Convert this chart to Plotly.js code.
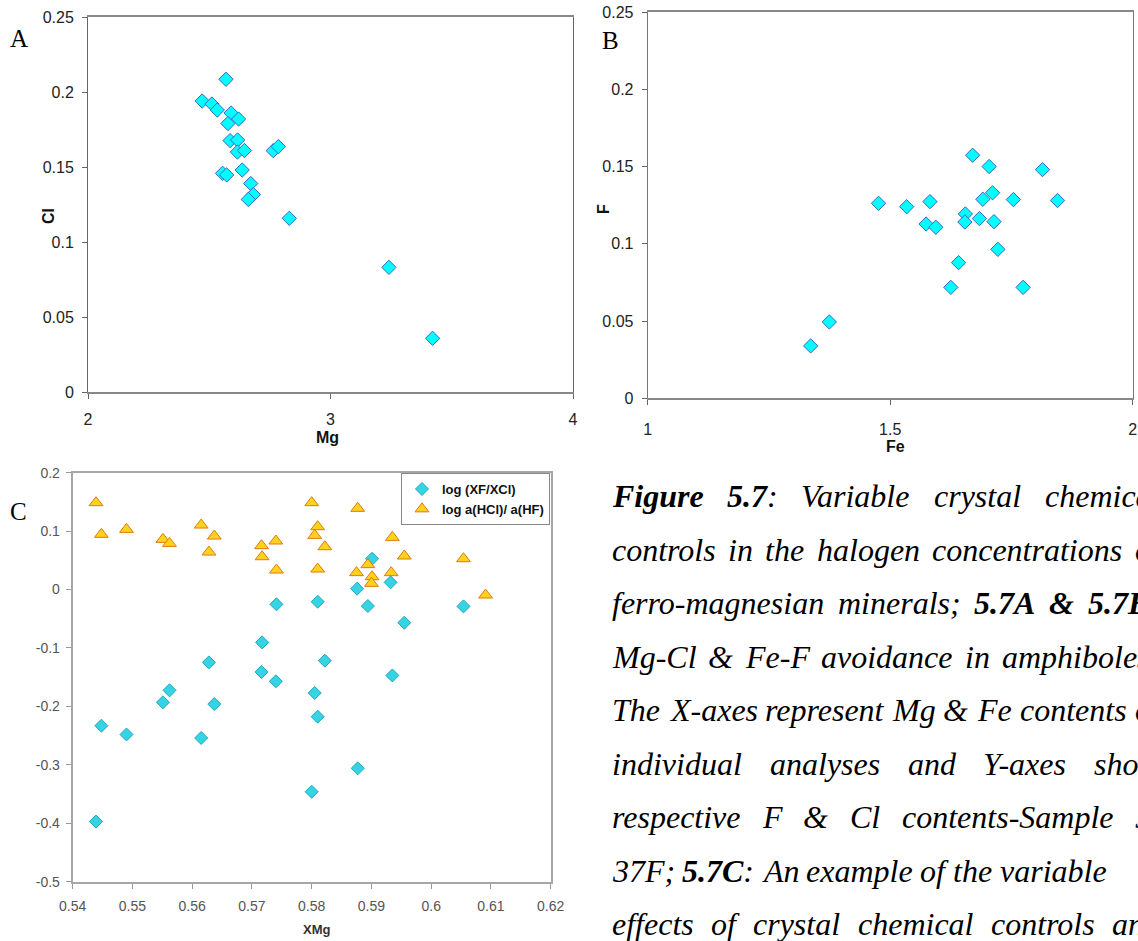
<!DOCTYPE html>
<html><head><meta charset="utf-8">
<script src="https://cdn.plot.ly/plotly-3.0.1.min.js"></script>
<style>html,body{margin:0;padding:0;background:#fff;overflow:hidden}#chart{width:1138px;height:941px}</style>
</head><body><div id="chart"></div>
<script>
// ---- Panel A: Mg vs Cl ----
const mgA = [2.569,2.471,2.511,2.533,2.590,2.621,2.577,2.586,2.617,2.616,2.645,2.555,2.572,2.636,2.671,2.682,2.661,2.764,2.785,2.830,3.241,3.421];
const clA = [0.2085,0.194,0.192,0.188,0.186,0.182,0.179,0.1676,0.168,0.160,0.161,0.1458,0.1447,0.148,0.139,0.1316,0.1284,0.1609,0.1636,0.1158,0.0831,0.0358];

// ---- Panel B: Fe vs F ----
const feB = [1.336,1.3745,1.476,1.534,1.582,1.574,1.594,1.670,1.704,1.814,1.711,1.691,1.754,1.845,1.655,1.654,1.684,1.714,1.722,1.641,1.625,1.774];
const fB  = [0.0339,0.0494,0.1262,0.124,0.1273,0.1128,0.1107,0.1573,0.150,0.148,0.133,0.1288,0.1286,0.128,0.1193,0.1141,0.1163,0.1143,0.0964,0.0878,0.0718,0.0718];

// ---- Panel C: XMg vs log ratios ----
const xmgDia = [0.5439,0.5448,0.549,0.5551,0.5562,0.5615,0.5628,0.5637,0.5717,0.5716,0.574,0.5741,0.581,0.5805,0.581,0.580,0.5822,0.6091,0.5901,0.5876,0.5932,0.5894,0.6054,0.5955,0.5935,0.5877];
const logXF  = [-0.397,-0.233,-0.248,-0.193,-0.1725,-0.254,-0.1246,-0.196,-0.0904,-0.141,-0.157,-0.0253,-0.0208,-0.177,-0.2176,-0.346,-0.1217,0.128,0.0528,0.0015,0.0123,-0.0282,-0.0288,-0.0567,-0.147,-0.306];
const xmgTri = [0.5439,0.5448,0.549,0.5551,0.5562,0.5615,0.5637,0.5628,0.5716,0.5717,0.574,0.5741,0.580,0.581,0.5805,0.5822,0.581,0.5877,0.5935,0.5955,0.5894,0.5875,0.5901,0.590,0.5933,0.6054,0.6091];
const logHCl = [0.1487,0.0945,0.103,0.0859,0.079,0.1104,0.0916,0.0642,0.0751,0.0562,0.0831,0.0334,0.1487,0.1076,0.0927,0.0733,0.0351,0.139,0.0893,0.0574,0.0426,0.0289,0.022,0.0106,0.0289,0.0528,-0.0094];

const xTicksC = [0.54,0.55,0.56,0.57,0.58,0.59,0.6,0.61,0.62];
const yTicksC = [0.2,0.1,0,-0.1,-0.2,-0.3,-0.4,-0.5];
const seriesNames = ['log (XF/XCl)', 'log a(HCl)/ a(HF)'];

const captionLines = [
  '<b>Figure</b> <b>5.7</b>: Variable crystal chemical',
  'controls in the halogen concentrations of',
  'ferro-magnesian minerals; <b>5.7A</b> <b>&amp;</b> <b>5.7B</b>:',
  'Mg-Cl &amp; Fe-F avoidance in amphiboles;',
  'The X-axes represent Mg &amp; Fe contents of',
  'individual analyses and Y-axes show',
  'respective F &amp; Cl contents-Sample J-',
  '37F; <b>5.7C</b>: An example of the variable',
  'effects of crystal chemical controls and'
];
const captionJustified = [true, true, true, true, true, true, true, false, true];

const W = 1138, H = 941;
const px = v => v / W, py = v => 1 - v / H;
const SANS = 'Liberation Sans, Arial, sans-serif';
const SERIF = 'Liberation Serif, Times New Roman, serif';
const CAP_SIZE = 32, CAP_X = 612, CAP_W = 548, CAP_Y0 = 496, CAP_DY = 53.5;

const diaA = {symbol:'diamond', size:11, color:'#00FFFF', line:{color:'#3F63C8', width:1}};

const traces = [
  {x:mgA, y:clA, type:'scatter', mode:'markers', marker:diaA, xaxis:'x', yaxis:'y', showlegend:false},
  {x:feB, y:fB, type:'scatter', mode:'markers', marker:diaA, xaxis:'x2', yaxis:'y2', showlegend:false},
  {x:xmgDia, y:logXF, type:'scatter', mode:'markers', name:seriesNames[0], xaxis:'x3', yaxis:'y3',
   marker:{symbol:'diamond', size:10, color:'#35D3E3', line:{color:'#20A9BC', width:1}}},
  {x:xmgTri, y:logHCl, type:'scatter', mode:'markers', name:seriesNames[1], xaxis:'x3', yaxis:'y3',
   marker:{symbol:'triangle-up', size:12, color:'#FFD21C', line:{color:'#E07A10', width:1}}}
];

const tickFontAB = {family:SANS, size:16, color:'#222'};
const tickFontC = {family:SANS, size:14, color:'#555'};
const baseAB = {showgrid:false, zeroline:false, mirror:true, ticks:'outside', ticklen:5, tickcolor:'#666', tickfont:tickFontAB};

const annotations = [
  {text:'Cl', x:px(48), y:py(216), textangle:-90, font:{family:SANS, size:16, color:'#111', weight:'bold'}},
  {text:'Mg', x:px(328), y:py(437), font:{family:SANS, size:16, color:'#111', weight:'bold'}},
  {text:'F', x:px(604), y:py(209), textangle:-90, font:{family:SANS, size:16, color:'#111', weight:'bold'}},
  {text:'Fe', x:px(895), y:py(446), font:{family:SANS, size:16, color:'#111', weight:'bold'}},
  {text:'XMg', x:px(317), y:py(929), font:{family:SANS, size:13, color:'#333', weight:'bold'}},
  {text:'A', x:px(19), y:py(38), font:{family:SERIF, size:25, color:'#000'}},
  {text:'B', x:px(610), y:py(40), font:{family:SERIF, size:25, color:'#000'}},
  {text:'C', x:px(18), y:py(512), font:{family:SERIF, size:25, color:'#000'}}
].map(a => Object.assign({xref:'paper', yref:'paper', showarrow:false, xanchor:'center', yanchor:'middle'}, a));

// justified caption: measure words and spread them across the line width
const ctx = document.createElement('canvas').getContext('2d');
function wordWidth(w) {
  let total = 0;
  const re = /<b>(.*?)<\/b>|([^<]+)/g; let m;
  while ((m = re.exec(w)) !== null) {
    const bold = m[1] !== undefined;
    const t = (bold ? m[1] : m[2]).replace(/&amp;/g, '&');
    ctx.font = 'italic ' + (bold ? 'bold ' : '') + CAP_SIZE + 'px "Liberation Serif"';
    total += ctx.measureText(t).width;
  }
  return total;
}
ctx.font = 'italic ' + CAP_SIZE + 'px "Liberation Serif"';
const spaceW = ctx.measureText(' ').width;

captionLines.forEach((line, i) => {
  const words = line.split(' ');
  const widths = words.map(wordWidth);
  const sum = widths.reduce((a, b) => a + b, 0);
  const gap = captionJustified[i] && words.length > 1 ? Math.max(spaceW, (CAP_W - sum) / (words.length - 1)) : spaceW;
  let xPos = CAP_X;
  words.forEach((w, k) => {
    annotations.push({text:'<i>' + w + '</i>', xref:'paper', yref:'paper', x:px(xPos - 1), y:py(CAP_Y0 + CAP_DY * i),
      xanchor:'left', yanchor:'middle', showarrow:false, align:'left', borderpad:0,
      font:{family:SERIF, size:CAP_SIZE, color:'#000'}});
    xPos += widths[k] + gap;
  });
});

const layout = {
  width:W, height:H, margin:{l:0, r:0, t:0, b:0}, paper_bgcolor:'#fff', plot_bgcolor:'#fff',
  showlegend:true,
  xaxis: Object.assign({}, baseAB, {domain:[px(88), px(573)], range:[2,4], dtick:1, tick0:2, anchor:'y',
    linecolor:'#888', linewidth:2, ticklabelstandoff:7}),
  yaxis: Object.assign({}, baseAB, {domain:[py(392), py(17)], range:[0,0.25], dtick:0.05, tick0:0, anchor:'x',
    linecolor:'#666', linewidth:1, ticklabelstandoff:5}),
  xaxis2: Object.assign({}, baseAB, {domain:[px(647.7), px(1132.7)], range:[1,2], dtick:0.5, tick0:1, anchor:'y2',
    linecolor:'#888', linewidth:2, ticklabelstandoff:10}),
  yaxis2: Object.assign({}, baseAB, {domain:[py(398.3), py(12)], range:[0,0.25], dtick:0.05, tick0:0, anchor:'x2',
    linecolor:'#777', linewidth:1, ticklabelstandoff:5}),
  xaxis3: {domain:[px(72.7), px(550.7)], range:[0.54,0.62], anchor:'y3', tickvals:xTicksC, ticktext:xTicksC.map(String),
    showgrid:false, zeroline:false, mirror:true, ticks:'outside', ticklen:5, tickcolor:'#999', linecolor:'#A6A6A6', linewidth:2,
    tickfont:tickFontC, ticklabelstandoff:5},
  yaxis3: {domain:[py(881.7), py(472.7)], range:[-0.5,0.2], anchor:'x3', tickvals:yTicksC, ticktext:yTicksC.map(String),
    showgrid:false, zeroline:false, mirror:true, ticks:'outside', ticklen:5, tickcolor:'#999', linecolor:'#A6A6A6', linewidth:2,
    tickfont:tickFontC, ticklabelstandoff:3},
  legend:{x:px(550), xanchor:'right', y:py(473), yanchor:'top', bgcolor:'#fff', bordercolor:'#888', borderwidth:1,
    font:{family:SANS, size:13, color:'#111', weight:'bold'}, itemwidth:30, tracegroupgap:0},
  annotations:annotations
};

Plotly.newPlot('chart', traces, layout, {displayModeBar:false, staticPlot:true});
</script></body></html>
